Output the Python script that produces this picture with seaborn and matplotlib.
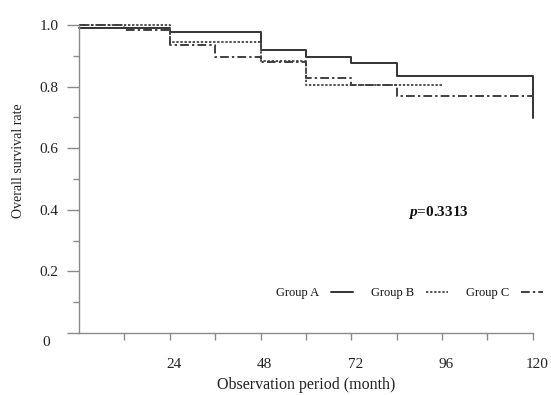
import numpy as np
import pandas as pd
import matplotlib
matplotlib.use("Agg")
import matplotlib.pyplot as plt
import matplotlib.transforms as mtransforms
import seaborn as sns

# ---- data ----
groups = ["Group A", "Group B", "Group C"]
time_a = [0, 24, 48, 60, 72, 84, 120, 120]
surv_a = [0.990, 0.978, 0.919, 0.897, 0.875, 0.834, 0.834, 0.698]
time_b = [0, 24, 48, 60, 96]
surv_b = [1.000, 0.944, 0.883, 0.804, 0.804]
time_c = [0, 12, 24, 36, 48, 60, 72, 84, 120]
surv_c = [1.000, 0.984, 0.935, 0.897, 0.881, 0.826, 0.804, 0.768, 0.768]
x_ticks = [24, 48, 72, 96, 120]
y_ticks = [0.2, 0.4, 0.6, 0.8, 1.0]
p_text = "0.3313"

df = pd.concat([
    pd.DataFrame({"group": groups[0], "time": time_a, "surv": surv_a}),
    pd.DataFrame({"group": groups[1], "time": time_b, "surv": surv_b}),
    pd.DataFrame({"group": groups[2], "time": time_c, "surv": surv_c}),
], ignore_index=True)

sns.set_theme(style="ticks")
plt.rcParams["font.family"] = ["Liberation Serif", "DejaVu Serif"]
plt.rcParams["mathtext.fontset"] = "custom"
plt.rcParams["mathtext.rm"] = "Liberation Serif"
plt.rcParams["mathtext.it"] = "Liberation Serif:italic:bold"
plt.rcParams["mathtext.bf"] = "Liberation Serif:bold"

fig = plt.figure(figsize=(5.51, 3.95), dpi=100)
ax = fig.add_axes([0.1434, 0.157, 0.8236, 0.780])

palette = {"Group A": "#333333", "Group B": "#505050", "Group C": "#404040"}
dashes = {"Group A": "", "Group B": (1.2, 0.9), "Group C": (4.5, 1.6, 1.2, 1.6)}
sns.lineplot(data=df, x="time", y="surv", hue="group", style="group",
             palette=palette, dashes=dashes, estimator=None, sort=False,
             drawstyle="steps-post", linewidth=1.4, ax=ax, clip_on=False)

ax.set_xlim(0, 120)
ax.set_ylim(0, 1.0)
ax.set_xticks(x_ticks)
ax.set_xticks([12, 36, 60, 84, 108], minor=True)
ax.set_yticks([0] + y_ticks)
ax.set_yticklabels([""] + [f"{v:.1f}" for v in y_ticks])
ax.set_yticks([0.1, 0.3, 0.5, 0.7, 0.9], minor=True)
ax.set_xticklabels([str(v) for v in x_ticks])

for s in ["top", "right"]:
    ax.spines[s].set_visible(False)
for s in ["left", "bottom"]:
    ax.spines[s].set_color("#8a8a8a")
    ax.spines[s].set_linewidth(1.0)

ax.tick_params(axis="y", which="major", direction="out", length=9, width=1.0,
               color="#8a8a8a", labelsize=11, pad=6, labelcolor="#222222")
ax.tick_params(axis="y", which="minor", direction="out", length=4, width=1.0,
               color="#8a8a8a")
ax.tick_params(axis="x", which="major", direction="out", length=5, width=1.0,
               color="#8a8a8a", labelsize=11, pad=13, labelcolor="#222222")
ax.tick_params(axis="x", which="minor", direction="out", length=5, width=1.0,
               color="#8a8a8a")

shift = mtransforms.ScaledTranslation(4 / 100, 0, fig.dpi_scale_trans)
for lab in ax.get_xticklabels():
    lab.set_transform(lab.get_transform() + shift)

# origin label "0" placed below the axis line
ax.text(-0.072, -0.03, "0", transform=ax.transAxes, ha="center", va="center",
        fontsize=11, color="#222222")

ax.set_xlabel("Observation period (month)", fontsize=11.5, labelpad=4, color="#222222")
ax.set_ylabel("Overall survival rate", fontsize=10, color="#222222")
ax.yaxis.set_label_coords(-0.12, 0.56)

ax.text(0.725, 0.39, r"$\mathit{p}$" + "=" + p_text, transform=ax.transAxes,
        fontsize=11, fontweight="bold", ha="left", va="center", color="#111111")

leg = ax.legend(loc="center right", bbox_to_anchor=(1.048, 0.13), ncol=3,
                frameon=False, markerfirst=False, fontsize=9,
                handlelength=1.8, columnspacing=1.45, handletextpad=0.9)
for t in leg.get_texts():
    t.set_color("#111111")

fig.savefig("out.png", dpi=100)
